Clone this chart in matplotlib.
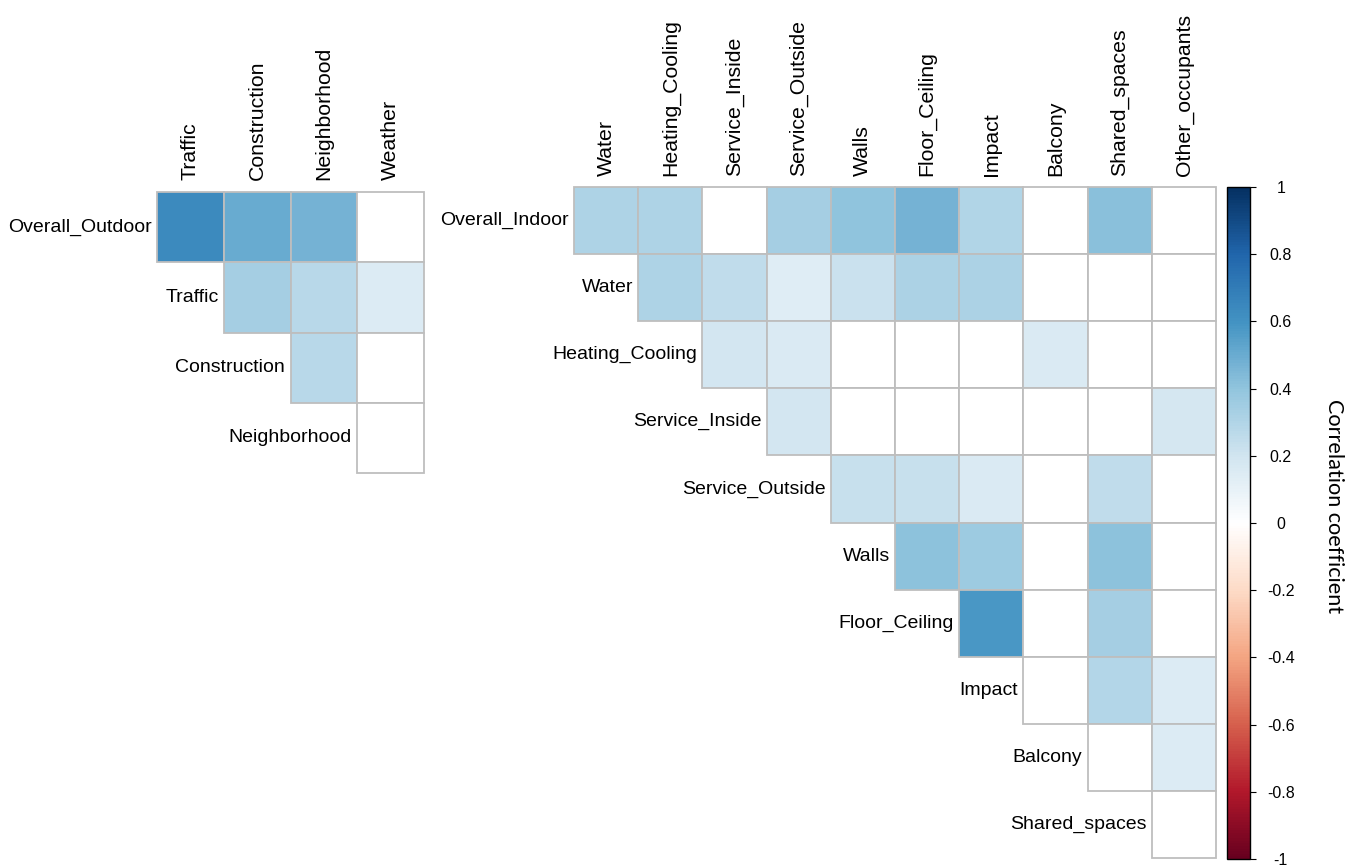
import numpy as np
import matplotlib as mpl
import matplotlib.pyplot as plt
from matplotlib.colors import LinearSegmentedColormap, Normalize
from matplotlib.patches import Rectangle

plt.rcParams['font.family'] = ['Liberation Sans', 'DejaVu Sans']

# outdoor block (upper triangle, row i starts at column i); None = not significant
outdoor_rows = ['Overall_Outdoor', 'Traffic', 'Construction', 'Neighborhood']
outdoor_cols = ['Traffic', 'Construction', 'Neighborhood', 'Weather']
outdoor_r = [
    [0.64, 0.50, 0.47, None],
    [0.34, 0.28, 0.15],
    [0.28, None],
    [None],
]

# indoor block
indoor_rows = ['Overall_Indoor', 'Water', 'Heating_Cooling', 'Service_Inside',
               'Service_Outside', 'Walls', 'Floor_Ceiling', 'Impact', 'Balcony',
               'Shared_spaces']
indoor_cols = ['Water', 'Heating_Cooling', 'Service_Inside', 'Service_Outside',
               'Walls', 'Floor_Ceiling', 'Impact', 'Balcony', 'Shared_spaces',
               'Other_occupants']
indoor_r = [
    [0.31, 0.31, None, 0.34, 0.40, 0.47, 0.30, None, 0.42, None],
    [0.31, 0.25, 0.14, 0.22, 0.32, 0.32, None, None, None],
    [0.19, 0.16, None, None, None, 0.16, None, None],
    [0.19, None, None, None, None, None, 0.18],
    [0.23, 0.23, 0.16, None, 0.25, None],
    [0.41, 0.36, None, 0.41, None],
    [0.58, None, 0.34, None],
    [None, 0.29, 0.15],
    [None, 0.15],
    [None],
]

cbar_ticks = [-1, -0.8, -0.6, -0.4, -0.2, 0, 0.2, 0.4, 0.6, 0.8, 1]

# corrplot's RdBu ramp
cmap = LinearSegmentedColormap.from_list('corr', [
    '#67001F', '#B2182B', '#D6604D', '#F4A582', '#FDDBC7', '#FFFFFF',
    '#D1E5F0', '#92C5DE', '#4393C3', '#2166AC', '#053061'])
norm = Normalize(-1, 1)

W, H = 1348, 865
fig = plt.figure(figsize=(W / 100, H / 100), dpi=100)


def px_axes(x0, y0, x1, y1):
    return fig.add_axes([x0 / W, 1 - y1 / H, (x1 - x0) / W, (y1 - y0) / H])


def draw_block(ax, rows, cols, vals):
    ax.set_xlim(0, len(cols))
    ax.set_ylim(len(rows), 0)
    ax.axis('off')
    for i, row in enumerate(vals):
        for k, v in enumerate(row):
            j = i + k
            fc = 'white' if v is None else cmap(norm(v))
            ax.add_patch(Rectangle((j, i), 1, 1, facecolor=fc, edgecolor='#BEBEBE',
                                   linewidth=1.3, clip_on=False))
        ax.text(i - 0.08, i + 0.5, rows[i], ha='right', va='center', fontsize=14)
    for j, c in enumerate(cols):
        ax.text(j + 0.5, -0.17, c, rotation=90, ha='center', va='bottom', fontsize=15.3)


ax1 = px_axes(157, 192, 424, 473)
draw_block(ax1, outdoor_rows, outdoor_cols, outdoor_r)

ax2 = px_axes(574, 187, 1216, 858)
draw_block(ax2, indoor_rows, indoor_cols, indoor_r)

cax = px_axes(1227, 187, 1250, 859)
cb = mpl.colorbar.ColorbarBase(cax, cmap=cmap, norm=norm, ticks=cbar_ticks)
cb.outline.set_linewidth(1.0)
cb.ax.set_yticklabels(['%g' % t for t in cbar_ticks])
cax.tick_params(length=4, width=0.8, labelsize=11.5, pad=0)
for lab in cax.get_yticklabels():
    lab.set_horizontalalignment('center')
    lab.set_x(2.1)

fig.text(1334 / W, 1 - 506 / H, 'Correlation coefficient', rotation=-90,
         ha='center', va='center', fontsize=15.6, family=['Lato', 'DejaVu Sans'])

fig.savefig('out.png', dpi=100)
